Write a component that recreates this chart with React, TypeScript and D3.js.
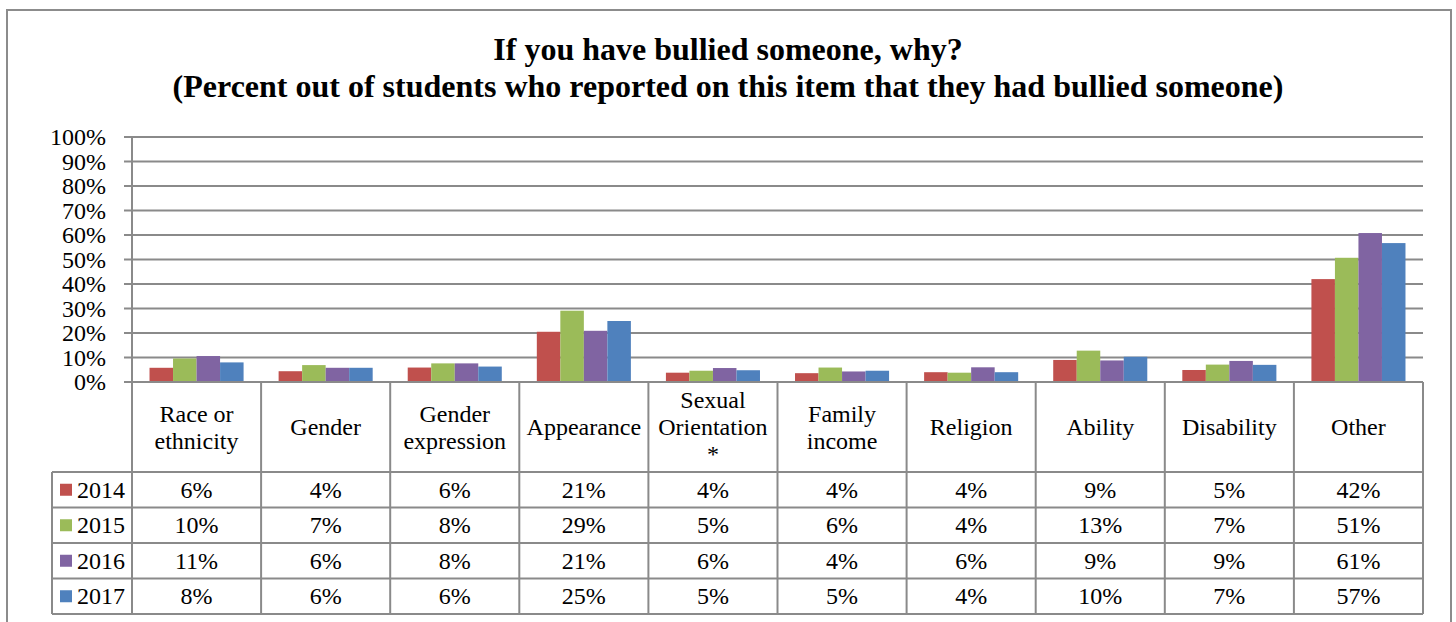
import React from "react";
import * as d3 from "d3";

const titleLines = [
  "If you have bullied someone, why?",
  "(Percent out of students who reported on this item that they had bullied someone)",
];
const categories = [
  ["Race or", "ethnicity"],
  ["Gender"],
  ["Gender", "expression"],
  ["Appearance"],
  ["Sexual", "Orientation", "*"],
  ["Family", "income"],
  ["Religion"],
  ["Ability"],
  ["Disability"],
  ["Other"],
];
const years = ["2014", "2015", "2016", "2017"];
const colors = ["#C0504D", "#9BBB59", "#8064A2", "#4F81BD"];
const v2014 = [5.8, 4.4, 5.9, 20.5, 3.8, 3.6, 4.0, 9.0, 4.9, 42.0];
const v2015 = [9.6, 6.9, 7.6, 29.1, 4.6, 5.9, 3.8, 12.8, 7.1, 50.7];
const v2016 = [10.6, 5.8, 7.6, 20.9, 5.7, 4.3, 6.0, 8.8, 8.6, 60.8];
const v2017 = [8.0, 5.8, 6.3, 24.9, 4.8, 4.6, 4.0, 10.3, 7.0, 56.7];
const series = [v2014, v2015, v2016, v2017];
const yTicks = [0, 10, 20, 30, 40, 50, 60, 70, 80, 90, 100];

const FONT = "'Liberation Serif', 'Times New Roman', serif";
const GRID = "#8a8a8a";

export default function App() {
  const W = 1456, H = 622;
  const left = 132, right = 1423, top = 137, bottom = 382;
  const headerBottom = 472;
  const rowH = 35.5;
  const tableLeft = 52;

  const y = d3.scaleLinear().domain([0, 100]).range([bottom, top]);
  const x0 = d3.scaleBand<number>().domain(d3.range(categories.length)).range([left, right]).paddingInner(0).paddingOuter(0);
  const bw = x0.bandwidth();
  const x1 = d3.scaleBand<number>().domain(d3.range(years.length)).range([0, bw]).paddingInner(0).paddingOuter(0.745);

  const rowY = (i: number) => headerBottom + i * rowH;
  const tableBottom = rowY(years.length);

  return (
    <div style={{ position: "absolute", left: 0, top: 0 }}>
      <svg width={W} height={H} style={{ display: "block", background: "#fff", fontFamily: FONT }}>
        <rect x={7} y={10} width={1444} height={640} fill="#fff" stroke="#8c8c8c" strokeWidth={2} />
        {titleLines.map((t, i) => (
          <text key={i} x={728} y={60 + i * 37} textAnchor="middle" fontSize={32} fontWeight="bold" fill="#000">
            {t}
          </text>
        ))}
        {/* gridlines and ticks */}
        {yTicks.map((t) => (
          <g key={t}>
            <line x1={124} x2={right} y1={y(t)} y2={y(t)} stroke={GRID} strokeWidth={2} />
            <text x={106} y={y(t) + 8} textAnchor="end" fontSize={24} fill="#000">
              {t}%
            </text>
          </g>
        ))}
        <line x1={left} x2={left} y1={top} y2={bottom} stroke={GRID} strokeWidth={2} />
        {/* bars */}
        {categories.map((_, ci) => (
          <g key={ci} transform={`translate(${x0(ci)},0)`}>
            {series.map((s, si) => (
              <rect
                key={si}
                x={x1(si)}
                y={y(s[ci])}
                width={x1.bandwidth()}
                height={bottom - y(s[ci])}
                fill={colors[si]}
              />
            ))}
          </g>
        ))}
        {/* table grid */}
        <line x1={left} x2={right} y1={bottom} y2={bottom} stroke={GRID} strokeWidth={2} />
        {d3.range(categories.length + 1).map((i) => {
          const xx = i === categories.length ? right : (x0(i) as number);
          return <line key={i} x1={xx} x2={xx} y1={bottom} y2={tableBottom} stroke={GRID} strokeWidth={2} />;
        })}
        {d3.range(years.length + 1).map((i) => (
          <line key={i} x1={tableLeft} x2={right} y1={rowY(i)} y2={rowY(i)} stroke={GRID} strokeWidth={2} />
        ))}
        <line x1={tableLeft} x2={tableLeft} y1={headerBottom} y2={tableBottom} stroke={GRID} strokeWidth={2} />
        {/* category labels */}
        {categories.map((lines, ci) => {
          const cx = (x0(ci) as number) + bw / 2;
          const lh = 27;
          const cy = (bottom + headerBottom) / 2;
          const start = cy - ((lines.length - 1) * lh) / 2;
          return (
            <text key={ci} textAnchor="middle" fontSize={24} fill="#000">
              {lines.map((l, li) => (
                <tspan key={li} x={cx} y={start + li * lh + 8}>
                  {l}
                </tspan>
              ))}
            </text>
          );
        })}
        {/* legend + values */}
        {years.map((yr, si) => {
          const cy = rowY(si) + rowH / 2;
          return (
            <g key={yr}>
              <rect x={60} y={cy - 6} width={12} height={12} fill={colors[si]} />
              <text x={77} y={cy + 8} fontSize={24} fill="#000">
                {yr}
              </text>
              {series[si].map((v, ci) => (
                <text key={ci} x={(x0(ci) as number) + bw / 2} y={cy + 8} textAnchor="middle" fontSize={24} fill="#000">
                  {Math.round(v)}%
                </text>
              ))}
            </g>
          );
        })}
      </svg>
    </div>
  );
}
